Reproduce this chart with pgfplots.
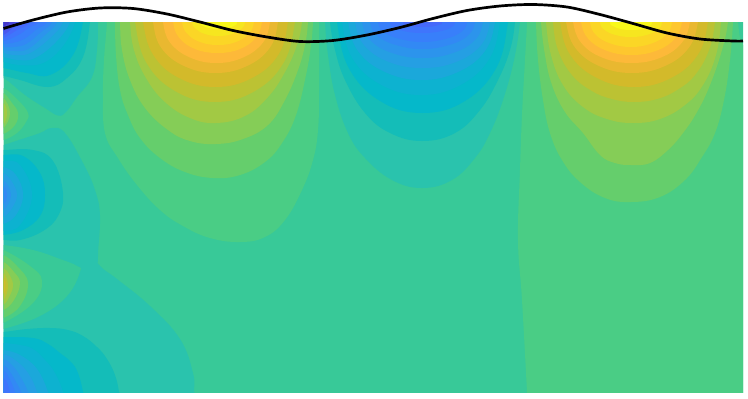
\documentclass[border=0pt]{standalone}
\usepackage{pgfplots}
\pgfplotsset{compat=1.18}
\definecolor{L0}{HTML}{38C998}
\definecolor{L1}{HTML}{4ACD85}
\definecolor{L2}{HTML}{65CE6C}
\definecolor{L3}{HTML}{85CD57}
\definecolor{L4}{HTML}{A2C944}
\definecolor{L5}{HTML}{BCC233}
\definecolor{L6}{HTML}{D3BA2A}
\definecolor{L7}{HTML}{E9B830}
\definecolor{L8}{HTML}{FDB939}
\definecolor{L9}{HTML}{FEC72E}
\definecolor{L10}{HTML}{FBD626}
\definecolor{L11}{HTML}{F6E61F}
\definecolor{L12}{HTML}{F8F81A}
\definecolor{M1}{HTML}{2AC3AD}
\definecolor{M2}{HTML}{14BDB8}
\definecolor{M3}{HTML}{05B8CA}
\definecolor{M4}{HTML}{0DB2D0}
\definecolor{M5}{HTML}{1BA8DA}
\definecolor{M6}{HTML}{259FE3}
\definecolor{M7}{HTML}{2C94EC}
\definecolor{M8}{HTML}{3289F4}
\definecolor{M9}{HTML}{387FFA}
\definecolor{M10}{HTML}{3F75FC}
\definecolor{M11}{HTML}{4669FA}
\definecolor{M12}{HTML}{4A58EE}
\definecolor{M13}{HTML}{4A47DC}
\definecolor{M14}{HTML}{4537C8}
\newcommand\lv[2]{\addplot[fill=#1,draw=none,smooth,tension=0.7,forget plot] coordinates {#2};}
\begin{document}
\begin{tikzpicture}
\path[use as bounding box] (0,0) rectangle (748pt,399pt);
\begin{axis}[at={(3.5pt,7pt)},anchor=south west,scale only axis,width=739.5pt,height=370pt,
  xmin=3.5,xmax=743,ymin=22,ymax=392,y dir=reverse,hide axis]
\addplot[fill=L0,draw=none,forget plot] coordinates {(-5,5) (760,5) (760,400) (-5,400)};
% lower-left region
\lv{M1}{(-5,147) (3.5,145) (22,139) (40,133) (52,128) (65,133) (83,163) (95,190) (100,216) (98,256) (100,266) (117,279) (150,306) (180,339) (193,373) (194,392) (194,400) (-5,400)}
% upper-left lobe
\lv{M1}{(-5,80) (3.5,78) (25,95) (45,108) (58,115.5) (66,112) (77,97) (92,77) (97,50) (98,22) (98,5) (-5,5)}
\lv{M2}{(-5,76) (3.5,76) (20,80) (48,87) (67,78) (83,57) (90,22) (90,5) (-5,5)}
\lv{M3}{(-5,68) (3.5,68) (27,73) (50,75) (73,55) (83,22) (83,5) (-5,5)}
\lv{M4}{(-5,62) (3.5,62) (20,65) (43,63) (63,46) (75,22) (75,5) (-5,5)}
\lv{M5}{(-5,57) (3.5,57) (18,60) (35,58) (56,42) (70,22) (70,5) (-5,5)}
\lv{M6}{(-5,53) (3.5,53) (15,55) (30,53) (50,38) (63,22) (63,5) (-5,5)}
\lv{M7}{(-5,50) (3.5,50) (15,51) (28,49) (45,35) (57,22) (57,5) (-5,5)}
\lv{M8}{(-5,47) (3.5,47) (13,47) (26,44) (41,32) (52,22) (52,5) (-5,5)}
\lv{M9}{(-5,44) (3.5,44) (12,43) (24,39) (37,29) (47,22) (47,5) (-5,5)}
\lv{M10}{(-5,41) (3.5,41) (10,39) (20,34) (30,27) (38,22) (38,5) (-5,5)}
\lv{M11}{(-5,38) (3.5,38) (9,35) (17,30) (30,22) (30,5) (-5,5)}
\lv{M12}{(-5,35) (3.5,35) (8,32) (14,27) (22,22) (22,5) (-5,5)}
\lv{M13}{(-5,31) (3.5,31) (8,27) (15,22) (15,5) (-5,5)}
\lv{M14}{(-5,27) (3.5,27) (6,24.5) (9,22) (9,5) (-5,5)}
% small left lobe (warm)
\lv{L1}{(-5,88) (3.5,88) (18,100) (28,113) (26,122) (17,133) (3.5,140) (-5,140)}
\lv{L2}{(-5,93) (3.5,93) (12,103) (18,113) (15,125) (3.5,134) (-5,134)}
\lv{L3}{(-5,98) (3.5,98) (10,113) (3.5,128) (-5,128)}
\lv{L4}{(-5,103) (3.5,103) (7,113) (3.5,124) (-5,124)}
% mid-left lobe (blue)
\lv{M2}{(-5,150) (3.5,150) (33,150) (53,161) (63,193) (58,216) (43,231) (20,240) (3.5,240) (-5,240)}
\lv{M3}{(-5,155) (3.5,155) (23,156) (40,173) (45,195) (40,216) (23,230) (3.5,235) (-5,235)}
\lv{M4}{(-5,161) (3.5,161) (20,165) (32,195) (20,225) (3.5,231) (-5,231)}
\lv{M5}{(-5,167) (3.5,167) (16,175) (23,195) (16,215) (3.5,224) (-5,224)}
\lv{M6}{(-5,173) (3.5,173) (12,182) (17,195) (12,208) (3.5,217) (-5,217)}
\lv{M7}{(-5,180) (3.5,180) (11,195) (3.5,210) (-5,210)}
\lv{M8}{(-5,186) (3.5,186) (7,195) (3.5,204) (-5,204)}
% lower-left warm lobe
\lv{L0}{(-5,245) (3.5,245) (33,250) (60,259) (77,266) (80,272) (67,296) (40,316) (3.5,329) (-5,329)}
\lv{L1}{(-5,250) (3.5,250) (30,266) (42,281) (33,303) (3.5,323) (-5,323)}
\lv{L2}{(-5,255) (3.5,255) (17,266) (28,283) (20,306) (3.5,318) (-5,318)}
\lv{L3}{(-5,262) (3.5,262) (14,272) (20,283) (14,300) (3.5,310) (-5,310)}
\lv{L4}{(-5,268) (3.5,268) (10,276) (13,286) (9,297) (3.5,305) (-5,305)}
\lv{L5}{(-5,273) (3.5,273) (8,286) (3.5,300) (-5,300)}
\lv{L6}{(-5,278) (3.5,278) (5.5,286) (3.5,294) (-5,294)}
% bottom-left corner lobe
\lv{M2}{(-5,332) (3.5,332) (27,329) (50,328) (68,330) (83,336) (97,347) (107,359) (115,375) (119,392) (119,400) (-5,400)}
\lv{M3}{(-5,337) (3.5,337) (33,338) (48,344) (60,353) (71,362) (78,373) (83,392) (83,400) (-5,400)}
\lv{M4}{(-5,343) (3.5,343) (20,345) (33,349) (45,360) (55,373) (63,392) (63,400) (-5,400)}
\lv{M5}{(-5,350) (3.5,350) (20,355) (37,369) (48,392) (48,400) (-5,400)}
\lv{M6}{(-5,354) (3.5,354) (15,360) (28,373) (37,392) (37,400) (-5,400)}
\lv{M7}{(-5,359) (3.5,359) (12,365) (20,376) (28,392) (28,400) (-5,400)}
\lv{M8}{(-5,365) (3.5,365) (10,372) (16,382) (21,392) (21,400) (-5,400)}
\lv{M9}{(-5,370) (3.5,370) (9,378) (15,392) (15,400) (-5,400)}
\lv{M10}{(-5,378) (3.5,378) (8,385) (10,392) (10,400) (-5,400)}
% lobe A
\lv{L1}{(107,5) (107,22) (104,60) (103,95) (105,133) (118,158) (137,185) (160,210) (183,226) (210,238) (240,242) (265,237) (285,220) (302,190) (313,160) (318,130) (319,90) (319,22) (319,5)}
\lv{L2}{(115,5) (115,22) (116,55) (120,90) (128,115) (140,138) (160,158) (185,172) (213,178) (240,175) (265,162) (282,143) (296,115) (306,75) (311,45) (313,22) (313,5)}
\lv{L3}{(120,5) (120,22) (122,50) (130,80) (145,108) (168,130) (190,141) (216,144) (243,139) (268,125) (285,100) (298,70) (305,45) (308,22) (308,5)}
\lv{L4}{(130,5) (130,22) (134,50) (146,78) (165,102) (190,118) (216,123) (245,116) (268,97) (285,72) (297,45) (302,22) (302,5)}
\lv{L5}{(135,5) (135,22) (146,62) (175,91) (215,102) (255,91) (284,62) (295,22) (295,5)}
\lv{L6}{(143,5) (143,22) (153,54.5) (179,78) (215.5,87) (252,78) (278.5,54.5) (288,22) (288,5)}
\lv{L7}{(153,5) (153,22) (161,47.5) (184,66) (215.5,73) (247,66) (270,47.5) (278,22) (278,5)}
\lv{L8}{(163,5) (163,22) (170,42.5) (190,57.5) (216.5,63) (243,57.5) (263,42.5) (270,22) (270,5)}
\lv{L9}{(173,5) (173,22) (179,37.5) (195,49) (217.5,53) (240,49) (256,37.5) (262,22) (262,5)}
\lv{L10}{(182,5) (182,22) (187,33.5) (200,42) (218,45) (236,42) (249,33.5) (254,22) (254,5)}
\lv{L11}{(192,5) (192,22) (196,29) (205,34) (218.5,36) (232,34) (241,29) (245,22) (245,5)}
\lv{L12}{(200,5) (200,22) (202.5,25.5) (209,28) (218.5,29) (228,28) (234.5,25.5) (237,22) (237,5)}
% lobe B
\lv{M1}{(325,5) (325,22) (328,55) (335,95) (348,133) (365,158) (392,180) (422,188) (452,180) (475,158) (490,133) (503,100) (514,60) (520,22) (520,5)}
\lv{M2}{(330,5) (330,22) (335,50) (345,80) (365,113) (390,133) (422,141) (455,133) (480,110) (498,80) (510,50) (515,22) (515,5)}
\lv{M3}{(337,5) (337,22) (348.5,67.5) (380,101) (422.5,113) (465,101) (496.5,67.5) (508,22) (508,5)}
\lv{M4}{(342,5) (342,22) (352.5,58.5) (381.5,85) (421,95) (460.5,85) (489.5,58.5) (500,22) (500,5)}
\lv{M5}{(348,5) (348,22) (358,51) (385,72) (421.5,80) (458,72) (485,51) (495,22) (495,5)}
\lv{M6}{(355,5) (355,22) (364,45) (389,62) (422.5,68) (456,62) (481,45) (490,22) (490,5)}
\lv{M7}{(362,5) (362,22) (370,40) (392,53) (422.5,58) (453,53) (475,40) (483,22) (483,5)}
\lv{M8}{(370,5) (370,22) (377,35.5) (396,45) (422.5,49) (449,45) (468,35.5) (475,22) (475,5)}
\lv{M9}{(378,5) (378,22) (384,32) (400,39) (422.5,42) (445,39) (461,32) (467,22) (467,5)}
\lv{M10}{(390,5) (390,22) (394,27.5) (406,31.5) (422.5,33) (439,31.5) (451,27.5) (455,22) (455,5)}
\lv{M11}{(403,5) (403,22) (405.6,24.5) (413,26.5) (422.5,27) (432,26.5) (439.5,24.5) (442,22) (442,5)}
% right lobe
\lv{L1}{(527,5) (527,22) (525,60) (522,115) (520,170) (518,240) (522,300) (527,392) (527,400) (760,400) (760,60) (743,45) (738,22) (738,5)}
\lv{L2}{(536,5) (536,22) (538,60) (543,100) (550,133) (562,160) (580,182) (605,198) (631,202) (660,197) (685,180) (702,157) (715,133) (724,100) (730,60) (733,22) (733,5)}
\lv{L3}{(541,5) (541,22) (545,55) (552,85) (565,112) (583,133) (600,155) (615,163) (631,165) (650,163) (668,150) (683,133) (697,112) (710,85) (722,50) (728,22) (728,5)}
\lv{L4}{(546,5) (546,22) (551,55) (563,85) (583,107) (607,119) (633,123) (660,119) (685,105) (703,85) (716,55) (721,22) (721,5)}
\lv{L5}{(553,5) (553,22) (558,50) (572,75) (592,91) (612,99) (634,102) (657,99) (677,90) (695,75) (709,50) (715,22) (715,5)}
\lv{L6}{(560,5) (560,22) (570,54.5) (597,78) (634,87) (671,78) (698,54.5) (708,22) (708,5)}
\lv{L7}{(566,5) (566,22) (575,47.5) (599,66) (632,73) (665,66) (689,47.5) (698,22) (698,5)}
\lv{L8}{(573,5) (573,22) (581,42.5) (602,57.5) (631.5,63) (661,57.5) (682,42.5) (690,22) (690,5)}
\lv{L9}{(581,5) (581,22) (588,38.5) (606,50.5) (631.5,55) (657,50.5) (675,38.5) (682,22) (682,5)}
\lv{L10}{(590,5) (590,22) (595.5,34.5) (610.5,43.5) (631,47) (651.5,43.5) (666.5,34.5) (672,22) (672,5)}
\lv{L11}{(600,5) (600,22) (604,29.5) (615.5,35) (631,37) (646.5,35) (658,29.5) (662,22) (662,5)}
\lv{L12}{(610,5) (610,22) (613,26) (620.5,29) (631,30) (641.5,29) (649,26) (652,22) (652,5)}
\end{axis}
\begin{axis}[at={(0,0)},anchor=south west,scale only axis,width=748pt,height=399pt,
  xmin=0,xmax=748,ymin=0,ymax=399,y dir=reverse,hide axis]
\addplot[black,line width=2.7pt,smooth] coordinates {
(3.5,28.5) (33,20) (67,12) (100,8) (133,8.5) (167,14) (200,22) (233,30.5) (267,37) (300,41.5) (333,40.5) (367,35) (400,27.5) (433,18.5) (467,10.5) (500,6) (533,4.5) (567,7) (600,14.5) (633,23.5) (667,33) (700,39) (733,41) (743,41)};
\end{axis}
\end{tikzpicture}
\end{document}
